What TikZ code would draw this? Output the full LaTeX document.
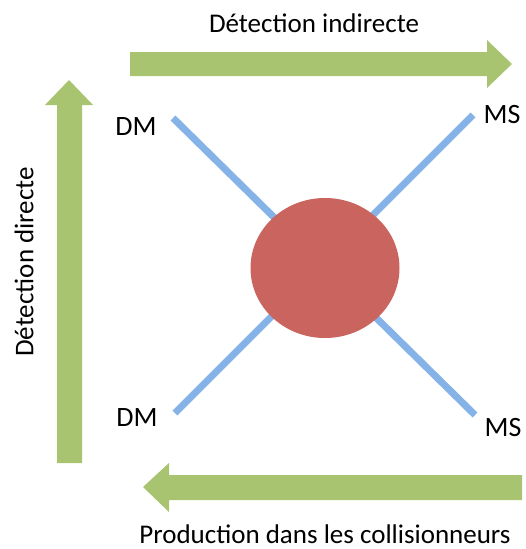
\documentclass[tikz,border=0pt]{standalone}
\usepackage{fontspec}
\setmainfont{Carlito}
\usetikzlibrary{shapes.geometric}
\definecolor{agreen}{HTML}{A9C470}
\definecolor{lblue}{HTML}{85B3E8}
\definecolor{cred}{HTML}{C9645E}
\begin{document}
\begin{tikzpicture}[x=1pt,y=-1pt,
  bigarrow/.style={fill=agreen,draw=none},
  leg/.style={draw=lblue,line width=7pt},
  lbl/.style={font=\fontsize{28}{30}\selectfont,inner sep=0pt},
  ttl/.style={font=\fontsize{27}{29}\selectfont,inner sep=0pt}]
\useasboundingbox (0,0) rectangle (525,549);
% arrows
\path[bigarrow] (130,52) -- (487,52) -- (487,40) -- (512,64) -- (487,88) -- (487,76) -- (130,76) -- cycle;
\path[bigarrow] (57,463) -- (57,105) -- (45,105) -- (69,80) -- (93,105) -- (82,105) -- (82,463) -- cycle;
\path[bigarrow] (522,475) -- (169,475) -- (169,463) -- (143,487) -- (169,512) -- (169,500) -- (522,500) -- cycle;
% titles
\node[ttl] (top) at (314,23) {Détection indirecte};
\node[ttl,rotate=90] (left) at (24,262) {Détection directe};
\node[ttl] (bot) at (325,534) {Production dans les collisionneurs};
% legs
\coordinate (tl) at (173,118);
\coordinate (tr) at (473,115);
\coordinate (bl) at (175,413);
\coordinate (br) at (475,415);
\draw[leg] (tl) -- (br);
\draw[leg] (tr) -- (bl);
\node[ellipse,fill=cred,minimum width=149pt,minimum height=140pt,inner sep=0pt] (core) at (325,268) {};
% labels
\node[lbl] (dm1) at (136,127) {DM};
\node[lbl] (ms1) at (502,115) {MS};
\node[lbl] (dm2) at (137,418) {DM};
\node[lbl] (ms2) at (503,428) {MS};
\end{tikzpicture}
\end{document}
